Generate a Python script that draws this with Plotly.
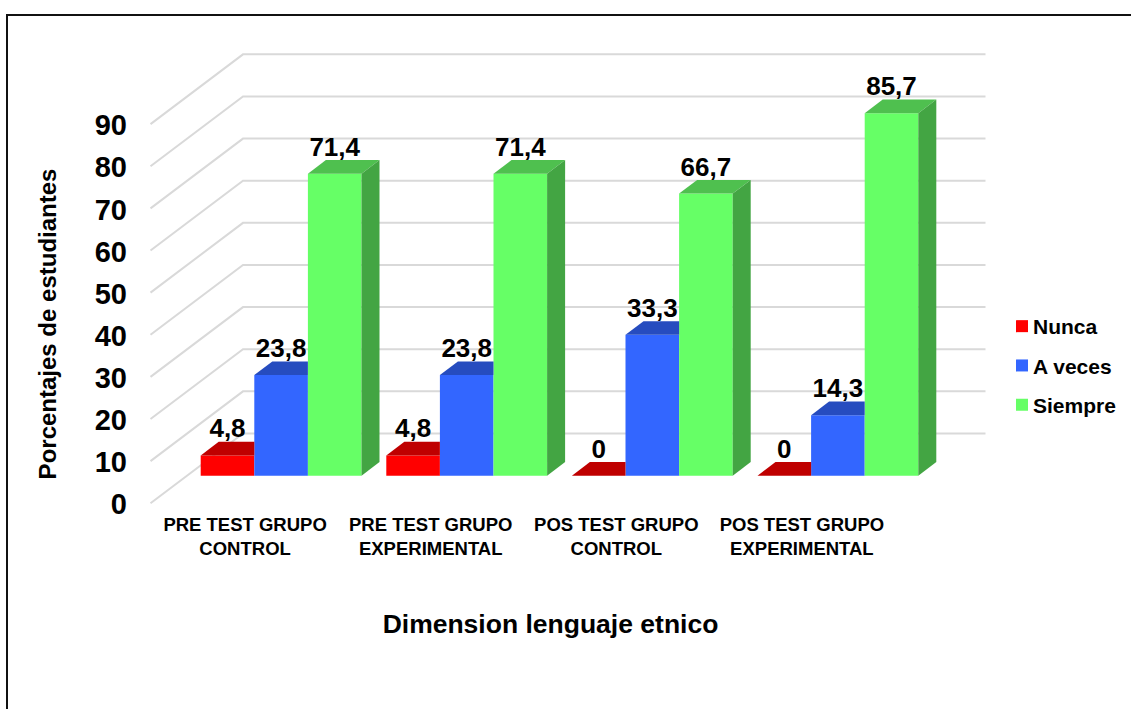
import plotly.graph_objects as go

# ---- data ----
CATEGORIES = ["PRE TEST GRUPO<br>CONTROL", "PRE TEST GRUPO<br>EXPERIMENTAL",
              "POS TEST GRUPO<br>CONTROL", "POS TEST GRUPO<br>EXPERIMENTAL"]
SERIES = ["Nunca", "A veces", "Siempre"]
NUNCA = [4.8, 4.8, 0, 0]
A_VECES = [23.8, 23.8, 33.3, 14.3]
SIEMPRE = [71.4, 71.4, 66.7, 85.7]
Y_TICKS = [0, 10, 20, 30, 40, 50, 60, 70, 80, 90]

# ---- styles / geometry of the pseudo-3D projection ----
VALUES = [NUNCA, A_VECES, SIEMPRE]
FRONT = ["#FF0000", "#3366FF", "#66FF66"]
TOP = ["#BF0000", "#264CBF", "#4FC04F"]
SIDE = ["#9F0000", "#1F3F9F", "#43A543"]
W, H = 1131, 709
GROUP_PX = 185.6
UNIT_PX = 4.23
WALL_SCALE = 4.213 / UNIT_PX   # the back wall sits slightly further away than the bars
ORIGIN_X = 281.1          # pixel of first group's centre
ORIGIN_Y = 475.7          # pixel of value 0 on the bars' front plane
BAR_W = 53.6 / GROUP_PX
DX = 18.0 / GROUP_PX      # bar depth
DZ = 13.6 / UNIT_PX
WALL_BACK_X = (243 - ORIGIN_X) / GROUP_PX
WALL_FRONT_X = (150.5 - ORIGIN_X) / GROUP_PX
WALL_RIGHT_X = (985.5 - ORIGIN_X) / GROUP_PX
WALL_BACK_Z = (ORIGIN_Y - 433.5) / UNIT_PX
WALL_FRONT_Z = (ORIGIN_Y - 503.3) / UNIT_PX
LABEL_DZ = 24.5 / UNIT_PX
TICK_SHIFT = -1.0 / UNIT_PX
CAT_SHIFT = -36.0 / GROUP_PX
PLOT_W = 1101
PLOT_H = 648

fig = go.Figure()

def fmt(v):
    return "0" if v == 0 else f"{v:.1f}".replace(".", ",")

n = len(SERIES)
for s, (name, vals) in enumerate(zip(SERIES, VALUES)):
    fig.add_trace(go.Bar(name=name, x=list(range(len(vals))), y=vals,
                         width=BAR_W, marker=dict(color=FRONT[s], line=dict(width=0)),
                         legendgroup=name))

for s, vals in enumerate(VALUES):
    for i, v in enumerate(vals):
        x0 = i + (s - n / 2) * BAR_W
        x1 = x0 + BAR_W
        if s == n - 1:
            top_x = [x0, x1, x1 + DX, x0 + DX, x0]
            top_y = [v, v, v + DZ, v + DZ, v]
        else:
            top_x = [x0, x1, x1, x0 + DX, x0]
            top_y = [v, v, v + DZ, v + DZ, v]
        fig.add_trace(go.Scatter(x=top_x, y=top_y, mode="lines", fill="toself",
                                 fillcolor=TOP[s], line=dict(width=0),
                                 hoverinfo="skip", showlegend=False))
        if s == n - 1:
            fig.add_trace(go.Scatter(x=[x1, x1 + DX, x1 + DX, x1, x1],
                                     y=[0, DZ, v + DZ, v, 0],
                                     mode="lines", fill="toself", fillcolor=SIDE[s],
                                     line=dict(width=0), hoverinfo="skip", showlegend=False))

for s, vals in enumerate(VALUES):
    xs = [i + (s - n / 2 + 0.5) * BAR_W for i in range(len(vals))]
    fig.add_trace(go.Scatter(x=xs, y=[v + LABEL_DZ for v in vals], mode="text",
                             text=[fmt(v) for v in vals], textposition="middle center",
                             textfont=dict(family="Liberation Sans", size=26, color="#000000", weight=700),
                             hoverinfo="skip", showlegend=False))

shapes = []
for t in Y_TICKS:
    w = t * WALL_SCALE
    path = (f"M {WALL_FRONT_X} {w + WALL_FRONT_Z} L {WALL_BACK_X} {w + WALL_BACK_Z} "
            f"L {WALL_RIGHT_X} {w + WALL_BACK_Z}")
    shapes.append(dict(type="path", path=path, xref="x", yref="y", layer="below",
                       line=dict(color="#D9D9D9", width=2)))
shapes.append(dict(type="rect", xref="paper", yref="paper", layer="below",
                   x0=7 / W, x1=1.2, y0=-0.2, y1=1 - 15 / H,
                   line=dict(color="#111111", width=2)))

fig.update_layout(
    width=W, height=H, margin=dict(l=0, r=0, t=0, b=0),
    paper_bgcolor="#FFFFFF", plot_bgcolor="rgba(0,0,0,0)",
    barmode="group", bargap=1 - 3 * BAR_W, bargroupgap=0,
    shapes=shapes,
    font=dict(family="Liberation Sans", color="#000000"),
    hovermode=False,
    legend=dict(x=1002 / W, y=1 - 306 / H, xanchor="left", yanchor="top",
                font=dict(size=21, family="Liberation Sans", weight=700), tracegroupgap=9,
                bgcolor="rgba(0,0,0,0)"),
    xaxis=dict(domain=[0, PLOT_W / W],
               range=[-ORIGIN_X / GROUP_PX, (PLOT_W - ORIGIN_X) / GROUP_PX],
               tickmode="array", tickvals=[i + CAT_SHIFT for i in range(len(CATEGORIES))],
               ticktext=[f"<b>{c.replace('<br>', '</b><br><b>')}</b>" for c in CATEGORIES],
               tickfont=dict(size=18.5), showgrid=False, zeroline=False, showline=False,
               tickangle=0, anchor="free", position=1 - 511 / H,
               title=dict(text="<b>Dimension lenguaje etnico</b>", font=dict(size=26.5), standoff=56)),
    yaxis=dict(domain=[1 - PLOT_H / H, 1],
               range=[(ORIGIN_Y - PLOT_H) / UNIT_PX, ORIGIN_Y / UNIT_PX],
               tickmode="array", tickvals=[t * WALL_SCALE + WALL_FRONT_Z + TICK_SHIFT for t in Y_TICKS],
               ticktext=[f"<b>{t}</b>" for t in Y_TICKS],
               tickfont=dict(size=29), showgrid=False, zeroline=False, showline=False,
               anchor="free", position=127 / W,
               title=dict(text="<b>Porcentajes de estudiantes</b>", font=dict(size=24), standoff=30)),
)

POST = """
document.body.style.margin='0';document.body.style.overflow='hidden';
var gd=document.getElementById('{plot_id}');
function tightenLegend(){document.querySelectorAll('.legendtext').forEach(function(t){
  if(!t.dataset.moved){t.setAttribute('x',parseFloat(t.getAttribute('x'))-9);t.dataset.moved='1';}
});}
tightenLegend();gd.on('plotly_afterplot',tightenLegend);
"""
fig.write_html("out.html", config=dict(displayModeBar=False), post_script=POST)
